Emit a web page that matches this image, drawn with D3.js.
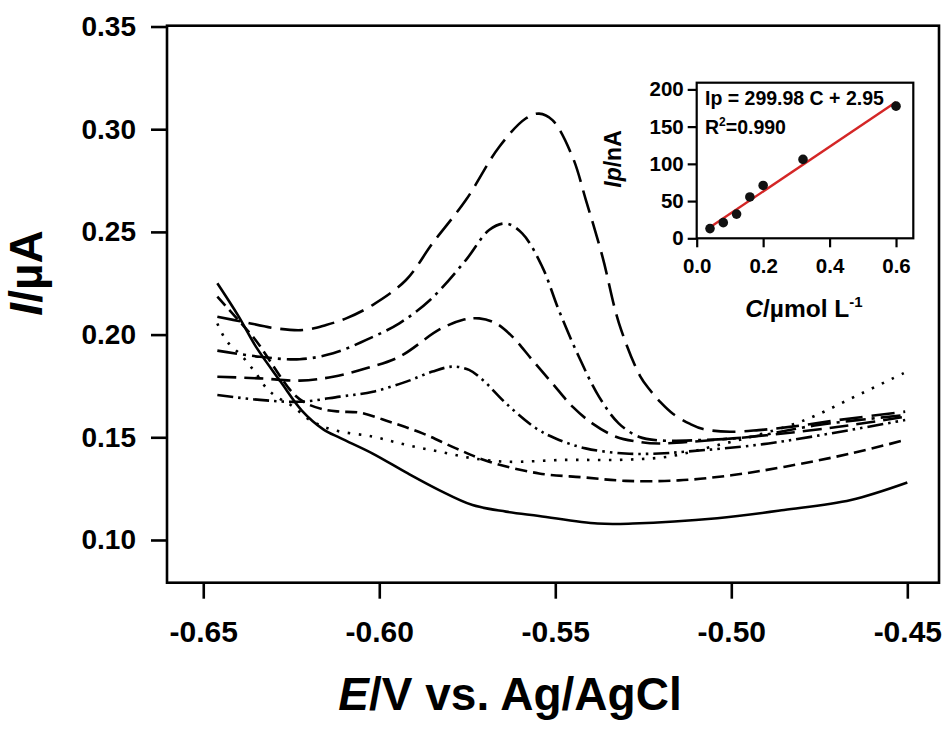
<!DOCTYPE html>
<html><head><meta charset="utf-8">
<script src="https://cdn.jsdelivr.net/npm/d3@7"></script>
<style>
body{margin:0;background:#fff;}
svg{display:block;font-family:"Liberation Sans",Arial,sans-serif;font-weight:bold;}
</style></head>
<body><svg id="c" width="950" height="731"></svg>
<script>
// ---- main chart data (E / V, I / µA) ----
const curveSolid = [[-0.646,0.225],[-0.640,0.209],[-0.635,0.194],[-0.628,0.177],[-0.622,0.163],[-0.616,0.154],[-0.611,0.1496],[-0.602,0.1422],[-0.592,0.1325],[-0.583,0.1243],[-0.5735,0.117],[-0.564,0.1138],[-0.5546,0.1117],[-0.538,0.108],[-0.528,0.108],[-0.504,0.1106],[-0.485,0.1146],[-0.466,0.1195],[-0.450,0.128]];
const curveDotted = [[-0.646,0.2054],[-0.6434,0.197],[-0.6387,0.189],[-0.635,0.181],[-0.632,0.1738],[-0.6292,0.1698],[-0.6245,0.165],[-0.6197,0.1584],[-0.6131,0.1536],[-0.6018,0.1503],[-0.5923,0.1463],[-0.5829,0.143],[-0.5735,0.1398],[-0.564,0.1381],[-0.547,0.139],[-0.532,0.139],[-0.5178,0.1406],[-0.5036,0.1463],[-0.4942,0.1503],[-0.4791,0.1584],[-0.4649,0.1698],[-0.4506,0.1816]];
const curveShortDash = [[-0.646,0.2185],[-0.640,0.207],[-0.635,0.197],[-0.6245,0.1714],[-0.6207,0.1665],[-0.6151,0.1633],[-0.6112,0.1625],[-0.6056,0.162],[-0.5971,0.1576],[-0.5877,0.1519],[-0.5782,0.1446],[-0.5688,0.1381],[-0.5546,0.1324],[-0.542,0.1305],[-0.530,0.1288],[-0.515,0.129],[-0.500,0.1315],[-0.4847,0.1357],[-0.4658,0.1422],[-0.4506,0.1487]];
const curveDashDotDot = [[-0.646,0.1706],[-0.6339,0.1682],[-0.6226,0.1673],[-0.6112,0.1698],[-0.6018,0.1722],[-0.5923,0.1771],[-0.5849,0.182],[-0.5792,0.1844],[-0.5745,0.1828],[-0.5706,0.1779],[-0.564,0.1665],[-0.5555,0.1544],[-0.5499,0.1494],[-0.5414,0.1446],[-0.5301,0.1421],[-0.5206,0.1421],[-0.513,0.143],[-0.4894,0.147],[-0.4506,0.1584]];
const curveLongDash = [[-0.646,0.1795],[-0.6339,0.1787],[-0.6226,0.1776],[-0.6131,0.1795],[-0.6037,0.1836],[-0.5943,0.1892],[-0.5829,0.2025],[-0.5764,0.2071],[-0.5716,0.2079],[-0.5669,0.2055],[-0.5622,0.199],[-0.5565,0.1876],[-0.5508,0.1762],[-0.5451,0.1649],[-0.5395,0.1568],[-0.5328,0.1503],[-0.5263,0.1478],[-0.5206,0.147],[-0.505,0.1487],[-0.490,0.151],[-0.470,0.155],[-0.4506,0.160]];
const curveDashDot = [[-0.646,0.1922],[-0.6339,0.1892],[-0.6226,0.188],[-0.6131,0.1909],[-0.6037,0.1974],[-0.5943,0.2055],[-0.5855,0.217],[-0.5754,0.2363],[-0.5688,0.2509],[-0.5641,0.2541],[-0.5594,0.2493],[-0.5537,0.233],[-0.549,0.2119],[-0.5433,0.1892],[-0.5376,0.1698],[-0.532,0.1568],[-0.5263,0.1503],[-0.5206,0.1485],[-0.5083,0.1487],[-0.4942,0.1503],[-0.4753,0.156],[-0.4506,0.1608]];
const curveBigDash = [[-0.646,0.2087],[-0.6387,0.2062],[-0.6292,0.203],[-0.6217,0.2022],[-0.6151,0.2047],[-0.6094,0.2079],[-0.6019,0.2144],[-0.5924,0.2266],[-0.5849,0.2444],[-0.5754,0.2655],[-0.5659,0.2915],[-0.5584,0.3052],[-0.5546,0.3076],[-0.5508,0.3044],[-0.5451,0.2865],[-0.5413,0.2655],[-0.5366,0.238],[-0.5319,0.2055],[-0.5259,0.1798],[-0.5231,0.1730],[-0.5202,0.1672],[-0.5165,0.1613],[-0.5117,0.1565],[-0.5080,0.1540],[-0.5004,0.1527],[-0.4922,0.1535],[-0.4828,0.1552],[-0.4696,0.1584],[-0.4506,0.1625]];

const xTickValues = [-0.65,-0.60,-0.55,-0.50,-0.45];
const xTickLabels = ["-0.65","-0.60","-0.55","-0.50","-0.45"];
const yTickValues = [0.10,0.15,0.20,0.25,0.30,0.35];
const yTickLabels = ["0.10","0.15","0.20","0.25","0.30","0.35"];

// ---- inset calibration data ----
const insetConc = [0.04,0.08,0.12,0.16,0.20,0.32,0.60];
const insetIp   = [13,21,32.5,55.5,71,106,177.5];
const fitSlope = 299.98, fitIntercept = 2.95;
const insetXTicks = [0.0,0.2,0.4,0.6];
const insetXTickLabels = ["0.0","0.2","0.4","0.6"];
const insetYTicks = [0,50,100,150,200];

const svg = d3.select("#c");

const x = d3.scaleLinear().domain([-0.6603,-0.441]).range([167,939]);
const y = d3.scaleLinear().domain([0.0792,0.3504]).range([582.7,25.7]);

const series = [
  {d:curveSolid, dash:null},
  {d:curveDotted, dash:"2.5,8.5"},
  {d:curveShortDash, dash:"12,6"},
  {d:curveDashDotDot, dash:"16,5,2.5,5,2.5,5"},
  {d:curveLongDash, dash:"19,8"},
  {d:curveDashDot, dash:"20,6,3,6"},
  {d:curveBigDash, dash:"23,9"}
];

const line = d3.line().x(d=>x(d[0])).y(d=>y(d[1])).curve(d3.curveCatmullRom.alpha(0.5));

svg.append("g").selectAll("path").data(series).join("path")
  .attr("d", s=>line(s.d))
  .attr("fill","none").attr("stroke","#000").attr("stroke-width",2.6)
  .attr("stroke-dasharray", s=>s.dash);

// frame
svg.append("rect").attr("x",167).attr("y",25.7).attr("width",939-167).attr("height",582.7-25.7)
  .attr("fill","none").attr("stroke","#000").attr("stroke-width",2.6);

// y axis
const yAx = svg.append("g").attr("transform","translate(167,0)")
  .call(d3.axisLeft(y).tickValues(yTickValues).tickSize(16).tickPadding(15)
    .tickFormat((d,i)=>yTickLabels[i]));
yAx.select(".domain").remove();
yAx.selectAll("line").attr("stroke-width",2.6);
yAx.selectAll("text").attr("font-size",28).attr("font-weight","bold").attr("fill","#000")
  .attr("font-family","Liberation Sans, Arial, sans-serif");

// x axis
const xAx = svg.append("g").attr("transform","translate(0,582.7)")
  .call(d3.axisBottom(x).tickValues(xTickValues).tickSize(16).tickPadding(20)
    .tickFormat((d,i)=>xTickLabels[i]));
xAx.select(".domain").remove();
xAx.selectAll("line").attr("stroke-width",2.6);
xAx.selectAll("text").attr("font-size",30).attr("font-weight","bold").attr("fill","#000")
  .attr("font-family","Liberation Sans, Arial, sans-serif")
  .attr("dy",null).attr("y",59);

// axis titles
const xt = svg.append("text").attr("x",510).attr("y",710).attr("text-anchor","middle")
  .attr("font-size",46).attr("font-weight","bold");
xt.append("tspan").attr("font-style","italic").text("E");
xt.append("tspan").text("/V vs. Ag/AgCl");

const yt = svg.append("text").attr("transform","translate(42,273) rotate(-90)")
  .attr("text-anchor","middle").attr("font-size",46).attr("font-weight","bold");
yt.append("tspan").attr("font-style","italic").text("I");
yt.append("tspan").text("/µA");

// ---- inset ----
const ix = d3.scaleLinear().domain([0,0.652]).range([696.7,913.3]);
const iy = d3.scaleLinear().domain([0,209]).range([238.3,82.7]);

const ins = svg.append("g");
ins.append("rect").attr("x",696.7).attr("y",82.7).attr("width",913.3-696.7).attr("height",238.3-82.7)
  .attr("fill","#fff").attr("stroke","#000").attr("stroke-width",2.2);

const iyAx = ins.append("g").attr("transform","translate(696.7,0)")
  .call(d3.axisLeft(iy).tickValues(insetYTicks).tickSize(9).tickPadding(4).tickFormat(d3.format("d")));
iyAx.select(".domain").remove();
iyAx.selectAll("line").attr("stroke-width",2.2);
iyAx.selectAll("text").attr("font-size",20.5).attr("font-weight","bold").attr("fill","#000")
  .attr("font-family","Liberation Sans, Arial, sans-serif");

const ixAx = ins.append("g").attr("transform","translate(0,238.3)")
  .call(d3.axisBottom(ix).tickValues(insetXTicks).tickSize(9).tickPadding(10)
    .tickFormat((d,i)=>insetXTickLabels[i]));
ixAx.select(".domain").remove();
ixAx.selectAll("line").attr("stroke-width",2.2);
ixAx.selectAll("text").attr("font-size",20.5).attr("font-weight","bold").attr("fill","#000")
  .attr("font-family","Liberation Sans, Arial, sans-serif").attr("dy",null).attr("y",35);

// fit line
const fitX = [insetConc[0], insetConc[insetConc.length-1]];
ins.append("line")
  .attr("x1",ix(fitX[0])).attr("y1",iy(fitSlope*fitX[0]+fitIntercept))
  .attr("x2",ix(fitX[1])).attr("y2",iy(fitSlope*fitX[1]+fitIntercept))
  .attr("stroke","#d42626").attr("stroke-width",2.4);

ins.selectAll("circle").data(insetConc).join("circle")
  .attr("cx",(d)=>ix(d)).attr("cy",(d,i)=>iy(insetIp[i])).attr("r",4.8)
  .attr("fill","#111");

// equation texts
const eq = ins.append("text").attr("x",705).attr("y",105).attr("font-size",19.5).attr("font-weight","bold");
eq.text("Ip = 299.98 C + 2.95");
const r2 = ins.append("text").attr("x",705).attr("y",134).attr("font-size",19.5).attr("font-weight","bold");
r2.append("tspan").text("R");
r2.append("tspan").attr("font-size",12).attr("dy",-8).text("2");
r2.append("tspan").attr("dy",8).text("=0.990");

// inset titles
const ixt = ins.append("text").attr("x",804).attr("y",317).attr("text-anchor","middle")
  .attr("font-size",24.5).attr("font-weight","bold");
ixt.append("tspan").attr("font-style","italic").text("C");
ixt.append("tspan").text("/µmol L");
ixt.append("tspan").attr("font-size",15).attr("dy",-10).text("-1");

const iyt = ins.append("text").attr("transform","translate(621,159) rotate(-90)")
  .attr("text-anchor","middle").attr("font-size",23).attr("font-weight","bold");
iyt.append("tspan").attr("font-style","italic").text("Ip");
iyt.append("tspan").text("/nA");
</script>
</body></html>
